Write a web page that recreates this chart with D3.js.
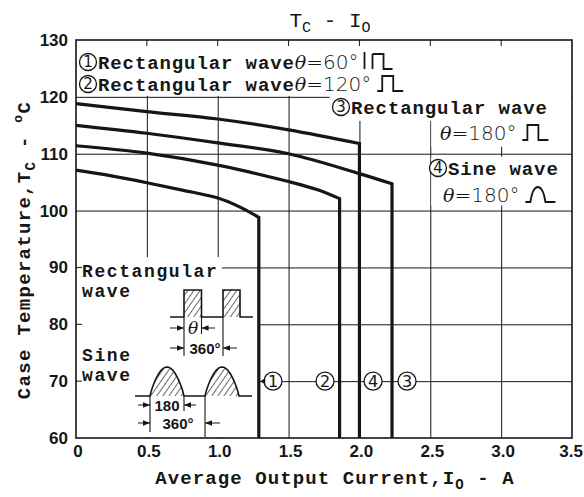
<!DOCTYPE html>
<html><head><meta charset="utf-8">
<script src="https://cdn.jsdelivr.net/npm/d3@7"></script>
<style>body{margin:0;background:#fff}</style>
</head><body>
<svg id="c" width="584" height="497"></svg>
<script>
// ---- data ----
const xTicks = [0, 0.5, 1.0, 1.5, 2.0, 2.5, 3.0, 3.5];
const xTickLabels = ["0", "0.5", "1.0", "1.5", "2.0", "2.5", "3.0", "3.5"];
const yTicks = [60, 70, 80, 90, 100, 110, 120, 130];
const yTickLabels = ["60", "70", "80", "90", "100", "110", "120", "130"];
// ① Rectangular wave θ=60°  (sloped part, then drop to 60 at the last current)
const c1I = [0, 0.25, 0.5, 0.75, 1.0, 1.15, 1.29];
const c1T = [107.1, 106.1, 104.9, 103.6, 102.2, 100.7, 98.8];
// ② Rectangular wave θ=120°
const c2I = [0, 0.5, 1.0, 1.5, 1.7, 1.86];
const c2T = [111.4, 110.1, 108.0, 105.1, 103.7, 102.1];
// ③ Rectangular wave θ=180°
const c3I = [0, 0.5, 1.0, 1.5, 2.0, 2.23];
const c3T = [115.0, 113.6, 111.9, 110.0, 106.5, 104.7];
// ④ Sine wave θ=180°
const c4I = [0, 0.5, 1.0, 1.5, 2.0];
const c4T = [118.8, 117.4, 116.1, 114.2, 111.8];
const curveLabels = ["1", "2", "4", "3"];
const labelI = [1.39, 1.757, 2.096, 2.336];
const labelT = 70;

// ---- setup ----
const svg = d3.select("#c");
const x = d3.scaleLinear().domain([0, 3.5]).range([76, 572]);
const y = d3.scaleLinear().domain([60, 130]).range([438, 40]);
const INK = "#161616";
const MONO = "'Liberation Mono', 'DejaVu Sans Mono', monospace";
const NUM = "'Liberation Sans Narrow', 'Liberation Sans', Arial, sans-serif";
const W = x(3.5) - x(0), H = y(60) - y(130);

// hatch pattern
const defs = svg.append("defs");
const pat = defs.append("pattern").attr("id", "hatch").attr("patternUnits", "userSpaceOnUse")
  .attr("width", 5).attr("height", 5).attr("patternTransform", "rotate(35)");
pat.append("line").attr("x1", 0).attr("y1", 0).attr("x2", 0).attr("y2", 5)
  .attr("stroke", INK).attr("stroke-width", 1.3);

// grid
const gx = svg.append("g").attr("transform", `translate(0,${y(60)})`)
  .call(d3.axisBottom(x).tickValues(xTicks.slice(1, -1)).tickSize(-H).tickFormat(""));
const gy = svg.append("g").attr("transform", `translate(${x(0)},0)`)
  .call(d3.axisLeft(y).tickValues(yTicks.slice(1, -1)).tickSize(-W).tickFormat(""));
[gx, gy].forEach(g => { g.select(".domain").remove(); g.selectAll("line").attr("stroke", INK).attr("stroke-width", 1); });

// white masks where legends / inset cover the grid
const masks = [
  [x(0) + 1, y(130) + 1, x(3.5) - 1, y(120) - 1],
  [x(1.79), y(120) - 1, x(3.5) - 1, y(120) + 24],
  [x(2.5) + 1, y(120) + 24, x(3.5) - 1, y(110) - 7],
  [x(2.5) + 1, y(110) + 3, x(3.5) - 1, y(100) - 5],
  [x(0) + 1, y(91.8), x(1.03), y(60) - 1],
  [x(1.03), y(83.8), x(1.285), y(60) - 1]
];
svg.append("g").selectAll("rect").data(masks).join("rect")
  .attr("x", d => d[0]).attr("y", d => d[1]).attr("width", d => d[2] - d[0]).attr("height", d => d[3] - d[1])
  .attr("fill", "#fff");

// top ticks & left ticks
svg.append("g").selectAll("line").data(xTicks.slice(1, -1)).join("line")
  .attr("x1", d => x(d)).attr("x2", d => x(d)).attr("y1", y(130)).attr("y2", y(130) + 6)
  .attr("stroke", INK).attr("stroke-width", 1);
svg.append("g").selectAll("line").data([70, 80, 90]).join("line")
  .attr("x1", x(0)).attr("x2", x(0) + 6).attr("y1", d => y(d)).attr("y2", d => y(d))
  .attr("stroke", INK).attr("stroke-width", 1);

// curves: smooth sloped part + vertical drop to the axis
const smooth = d3.line().x(d => x(d[0])).y(d => y(d[1])).curve(d3.curveCatmullRom.alpha(0.5));
[[c1I, c1T], [c2I, c2T], [c3I, c3T], [c4I, c4T]].forEach(([I, T]) => {
  const pts = I.map((v, i) => [v, T[i]]);
  const last = pts[pts.length - 1];
  const d = smooth(pts) + `L${x(last[0])},${y(60)}`;
  svg.append("path").attr("d", d)
    .attr("fill", "none").attr("stroke", INK).attr("stroke-width", 3.2).attr("stroke-linejoin", "miter");
});

// frame
svg.append("rect").attr("x", x(0)).attr("y", y(130)).attr("width", W).attr("height", H)
  .attr("fill", "none").attr("stroke", INK).attr("stroke-width", 1.6);

// tick labels
svg.append("g").selectAll("text").data(yTicks).join("text")
  .attr("x", x(0) - 8).attr("y", d => y(d) + 6).attr("text-anchor", "end")
  .attr("font-family", NUM).attr("font-weight", "bold").attr("font-size", 17).attr("fill", INK)
  .text((d, i) => yTickLabels[i]);
svg.append("g").selectAll("text").data(xTicks).join("text")
  .attr("x", (d, i) => i === xTicks.length - 1 ? 583 : x(d) + 2).attr("y", y(60) + 19)
  .attr("text-anchor", (d, i) => i === xTicks.length - 1 ? "end" : "middle")
  .attr("font-family", NUM).attr("font-weight", "bold").attr("font-size", 17).attr("fill", INK)
  .text((d, i) => xTickLabels[i]);

// circled number helper
function circled(cx, cy, n, r = 8.5, fs = 15) {
  svg.append("circle").attr("cx", cx).attr("cy", cy).attr("r", r)
    .attr("fill", "#fff").attr("stroke", INK).attr("stroke-width", 1.3);
  svg.append("text").attr("x", cx).attr("y", cy + fs * 0.36).attr("text-anchor", "middle")
    .attr("font-family", "'DejaVu Sans', sans-serif").attr("font-size", fs).attr("fill", INK).text(n);
}
// curve labels on the 70 line
labelI.forEach((v, i) => circled(x(v), y(labelT), curveLabels[i], 9, 16));
// tiny arrow left of ①
svg.append("path").attr("d", `M${x(1.30)},${y(70)} l5,-3 v6 z`).attr("fill", INK);

// title
const title = svg.append("text").attr("x", 330).attr("y", 27).attr("text-anchor", "middle")
  .attr("font-family", MONO).attr("font-size", 21).attr("fill", INK);
title.append("tspan").text("T");
title.append("tspan").attr("font-size", 15).attr("dy", 5).text("C");
title.append("tspan").attr("dy", -5).text(" - I");
title.append("tspan").attr("font-size", 15).attr("dy", 5).text("O");

// axis titles
const xl = svg.append("text").attr("x", 335).attr("y", 484).attr("text-anchor", "middle")
  .attr("font-family", MONO).attr("font-weight", "bold").attr("font-size", 19).attr("letter-spacing", 1.1).attr("fill", INK);
xl.append("tspan").text("Average Output Current,I");
xl.append("tspan").attr("font-size", 14).attr("dy", 5).text("O");
xl.append("tspan").attr("dy", -5).text(" - A");

const yl = svg.append("text").attr("transform", "translate(30,250) rotate(-90)").attr("text-anchor", "middle")
  .attr("font-family", MONO).attr("font-weight", "bold").attr("font-size", 19).attr("letter-spacing", 1.3).attr("fill", INK);
yl.append("tspan").text("Case Temperature,T");
yl.append("tspan").attr("font-size", 14).attr("dy", 5).text("C");
yl.append("tspan").attr("dy", -5).text(" - ");
yl.append("tspan").attr("font-size", 13).attr("dy", -8).text("o");
yl.append("tspan").attr("dy", 8).text("C");

// legend rows
function legendRow(px, py, circ, parts, glyph) {
  if (circ) circled(px + 8, py - 7, circ, 8.5, 15);
  const t = svg.append("text").attr("x", circ ? px + 18 : px).attr("y", py).attr("fill", INK);
  parts.forEach(p => {
    const s = t.append("tspan").text(p.t);
    if (p.mono) s.attr("font-family", MONO).attr("font-weight", "bold").attr("font-size", 19).attr("letter-spacing", 0.9);
    if (p.theta) s.attr("font-family", "'DejaVu Serif', serif").attr("font-style", "italic").attr("font-size", 19);
    if (p.sans) s.attr("font-family", "'DejaVu Sans', sans-serif").attr("font-size", 20).attr("font-weight", 300);
  });
  const end = (circ ? px + 18 : px) + t.node().getComputedTextLength();
  if (glyph) {
    const a = end + 6, b = py;
    let d = "";
    if (glyph === "bar") d = `M${a},${b - 17} V${b} M${a + 8},${b - 15} V${b} M${a + 8},${b - 15} H${a + 19} V${b} H${a + 28}`;
    if (glyph === "pulse") d = `M${a},${b} H${a + 5} V${b - 15} H${a + 16} V${b} H${a + 26}`;
    if (glyph === "sine") d = `M${a},${b} H${a + 5} C${a + 8},${b - 20} ${a + 17},${b - 20} ${a + 20},${b} H${a + 30}`;
    svg.append("path").attr("d", d).attr("fill", "none").attr("stroke", INK).attr("stroke-width", 1.8);
  }
}
legendRow(80, 69, "1", [{t: "Rectangular wave", mono: 1}, {t: "θ", theta: 1}, {t: "=60°", sans: 1}], "bar");
legendRow(80, 91, "2", [{t: "Rectangular wave", mono: 1}, {t: "θ", theta: 1}, {t: "=120°", sans: 1}], "pulse");
legendRow(333, 114, "3", [{t: "Rectangular wave", mono: 1}], null);
legendRow(440, 140, null, [{t: "θ", theta: 1}, {t: "=180°", sans: 1}], "pulse");
legendRow(430, 175, "4", [{t: "Sine wave", mono: 1}], null);
legendRow(443, 202, null, [{t: "θ", theta: 1}, {t: "=180°", sans: 1}], "sine");

// ---- inset: waveform definitions ----
const ins = svg.append("g");
function txt(px, py, s, fs, opts = {}) {
  const t = ins.append("text").attr("x", px).attr("y", py).attr("fill", INK).attr("font-size", fs)
    .attr("font-family", opts.fam || MONO).attr("font-weight", opts.w || "bold")
    .attr("text-anchor", opts.anchor || "start").text(s);
  if (opts.ls) t.attr("letter-spacing", opts.ls);
  if (opts.italic) t.attr("font-style", "italic");
  return t;
}
txt(82, 277, "Rectangular", 18, {ls: 1.6});
txt(82, 297, "wave", 18, {ls: 1.6});
txt(82, 361, "Sine", 18, {ls: 1.6});
txt(82, 381, "wave", 18, {ls: 1.6});

// rectangular wave
ins.append("rect").attr("x", 184).attr("y", 290).attr("width", 17.5).attr("height", 27).attr("fill", "url(#hatch)");
ins.append("rect").attr("x", 223).attr("y", 290).attr("width", 17).attr("height", 27).attr("fill", "url(#hatch)");
ins.append("path").attr("d", "M170,317 H184 V290 H201.5 V317 H223 V290 H240 V317 H253")
  .attr("fill", "none").attr("stroke", INK).attr("stroke-width", 1.6);
// sine wave
function hump(x0, x1, base, h) {
  return d3.range(0, 1.0001, 0.05).map(t => [x0 + (x1 - x0) * t, base - h * Math.pow(Math.sin(Math.PI * t), 0.8)]);
}
const h1 = hump(150, 184, 396, 29), h2 = hump(205, 239, 396, 29);
const lg = d3.line();
ins.append("path").attr("d", lg(h1) + "Z").attr("fill", "url(#hatch)");
ins.append("path").attr("d", lg(h2) + "Z").attr("fill", "url(#hatch)");
ins.append("path").attr("d", lg([[135, 396], ...h1, [205, 396], ...h2, [252, 396]]))
  .attr("fill", "none").attr("stroke", INK).attr("stroke-width", 1.6);

// dimension lines
ins.append("path").attr("fill", "none").attr("stroke", INK).attr("stroke-width", 1.1)
  .attr("d", [
    "M184,317 V356", "M201.5,317 V334", "M223,317 V356",
    "M170,328 H184", "M215,328 H201.5", "M170,348 H184", "M237,348 H223",
    "M150,396 V432", "M184,396 V411", "M205,396 V437",
    "M138,405 H150", "M196,405 H184", "M138,423 H150", "M220,423 H205"
  ].join(" "));
function arrowHead(px, py, dir) {
  ins.append("path").attr("d", `M${px},${py} l${-7 * dir},-2.8 v5.6 z`).attr("fill", INK);
}
arrowHead(184, 328, 1); arrowHead(201.5, 328, -1); arrowHead(184, 348, 1); arrowHead(223, 348, -1);
arrowHead(150, 405, 1); arrowHead(184, 405, -1); arrowHead(150, 423, 1); arrowHead(205, 423, -1);
txt(193, 334, "θ", 17, {fam: "'DejaVu Serif', serif", w: "normal", italic: 1, anchor: "middle"});
txt(205, 354, "360°", 15, {fam: NUM, anchor: "middle"});
txt(167, 411, "180", 15, {fam: NUM, anchor: "middle"});
txt(178, 429, "360°", 15, {fam: NUM, anchor: "middle"});
</script>
</body></html>
